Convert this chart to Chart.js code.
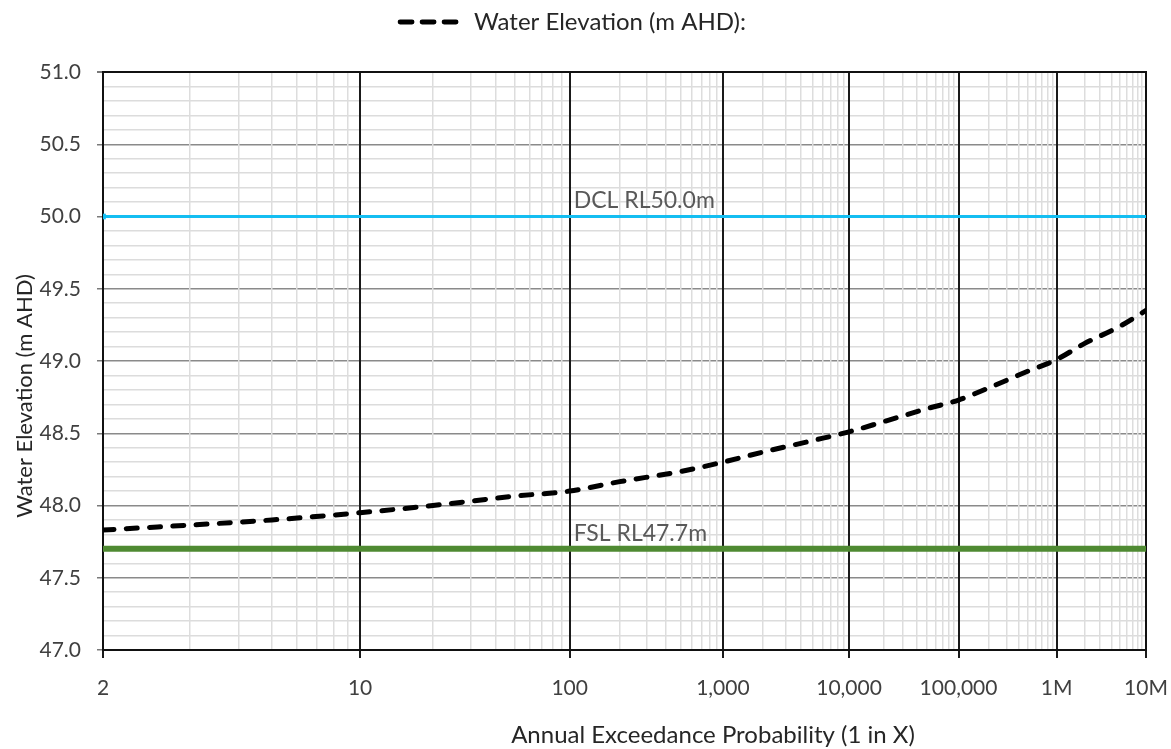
<!DOCTYPE html>
<html>
<head>
<meta charset="utf-8">
<title>Water Elevation vs AEP</title>
<script src="https://cdn.jsdelivr.net/npm/chart.js@4.4.1/dist/chart.umd.min.js"></script>
<style>
  html, body { margin: 0; padding: 0; background: #fff; }
  canvas { display: block; }
</style>
</head>
<body>
<canvas id="aepChart" width="1171" height="749"></canvas>
<script>
// Return period (1 in X) and modelled water elevation (m AHD)
const returnPeriods = [2, 5, 10, 20, 50, 100, 200, 500, 1000, 2000, 5000, 10000, 20000, 50000,
  100000, 200000, 500000, 1000000, 2000000, 5000000, 10000000];
const waterLevels = [47.83, 47.90, 47.95, 48.00, 48.065, 48.10, 48.165, 48.235, 48.30, 48.37, 48.45, 48.51, 48.58, 48.67,
  48.73, 48.815, 48.93, 49.01, 49.12, 49.24, 49.35];

// Reference levels, drawn across the full AEP range
const dclLevel = 50.0;
const fslLevel = 47.7;
const refRange = [2, 10000000];
const refLabelAt = 100;

// Axis ticks
const majorPeriods = [2, 10, 100, 1000, 10000, 100000, 1000000, 10000000];
const majorLabels = ["2", "10", "100", "1,000", "10,000", "100,000", "1M", "10M"];
const minorSteps = [2, 3, 4, 5, 6, 7, 8, 9];
const yMin = 47, yMax = 51, yStep = 0.1, yMajorStep = 0.5;

const xTitle = "Annual Exceedance Probability (1 in X)";
const yTitle = "Water Elevation (m AHD)";

Chart.defaults.font.family = "Lato, 'Open Sans', sans-serif";

// Acklam's approximation of the inverse standard normal CDF
function normInv(p) {
  const a = [-3.969683028665376e+01, 2.209460984245205e+02, -2.759285104469687e+02, 1.383577518672690e+02, -3.066479806614716e+01, 2.506628277459239e+00];
  const b = [-5.447609879822406e+01, 1.615858368580409e+02, -1.556989798598866e+02, 6.680131188771972e+01, -1.328068155288572e+01];
  const c = [-7.784894002430293e-03, -3.223964580411365e-01, -2.400758277161838e+00, -2.549671680376970e+00, 4.374664141464968e+00, 2.938163982698783e+00];
  const d = [7.784695709041462e-03, 3.224671290700398e-01, 2.445134137142996e+00, 3.754408661907416e+00];
  const pLow = 0.02425;
  let q, r;
  if (p < pLow) {
    q = Math.sqrt(-2 * Math.log(p));
    return (((((c[0] * q + c[1]) * q + c[2]) * q + c[3]) * q + c[4]) * q + c[5]) /
      ((((d[0] * q + d[1]) * q + d[2]) * q + d[3]) * q + 1);
  }
  if (p <= 1 - pLow) {
    q = p - 0.5;
    r = q * q;
    return (((((a[0] * r + a[1]) * r + a[2]) * r + a[3]) * r + a[4]) * r + a[5]) * q /
      (((((b[0] * r + b[1]) * r + b[2]) * r + b[3]) * r + b[4]) * r + 1);
  }
  q = Math.sqrt(-2 * Math.log(1 - p));
  return -(((((c[0] * q + c[1]) * q + c[2]) * q + c[3]) * q + c[4]) * q + c[5]) /
    ((((d[0] * q + d[1]) * q + d[2]) * q + d[3]) * q + 1);
}

// Normal probability axis: "1 in X" values are placed at their standard normal deviate
class AepScale extends Chart.LinearScale {
  parse(raw, index) {
    const v = super.parse(raw, index);
    return v === null ? null : -normInv(1 / v);
  }
  init(options) {
    super.init(options);
    this._userMin = this.parse(options.min);
    this._userMax = this.parse(options.max);
  }
}
AepScale.id = "aep";
AepScale.defaults = Chart.LinearScale.defaults;
Chart.register(AepScale);

function buildAepTicks(scale) {
  const ticks = majorPeriods.map((p, i) => ({ value: scale.parse(p), lbl: majorLabels[i], isMajor: true }));
  for (let decade = 1; decade < 10000000; decade *= 10) {
    minorSteps.forEach(m => {
      const p = m * decade;
      if (p > 2 && !majorPeriods.includes(p)) ticks.push({ value: scale.parse(p), lbl: "", isMajor: false });
    });
  }
  ticks.sort((t1, t2) => t1.value - t2.value);
  scale.ticks = ticks;
}

const isHalf = v => Math.abs(v / yMajorStep - Math.round(v / yMajorStep)) < 1e-6;
const toPoints = (xs, ys) => xs.map((x, i) => ({ x, y: ys[i] }));

// zero-size axes that only draw a frame line on the top and right of the plot
const frameAxis = position => ({
  type: "linear",
  position,
  min: 0,
  max: 1,
  afterFit(scale) {
    if (position === "top") scale.height = 0; else scale.width = 0;
    scale.paddingLeft = scale.paddingRight = scale.paddingTop = scale.paddingBottom = 0;
  },
  border: { color: "#111", width: 2 },
  grid: { display: false, drawTicks: false },
  ticks: { display: false }
});

const chartDecor = {
  id: "chartDecor",
  beforeInit(chart) {
    // reserve a fixed band above the plot for the legend
    const fit = chart.legend.fit;
    chart.legend.fit = function () {
      fit.call(this);
      this.height = 72;
    };
  },
  afterDraw(chart) {
    const { ctx, scales: { x, y } } = chart;
    ctx.save();
    ctx.textBaseline = "alphabetic";
    ctx.textAlign = "left";
    ctx.font = "23px Lato";
    ctx.fillStyle = "#595959";
    const lx = x.getPixelForValue(x.parse(refLabelAt)) + 4;
    ctx.fillText("DCL RL" + dclLevel.toFixed(1) + "m", lx, y.getPixelForValue(dclLevel) - 9);
    ctx.fillText("FSL RL" + fslLevel.toFixed(1) + "m", lx, y.getPixelForValue(fslLevel) - 8);

    ctx.fillStyle = "#262626";
    ctx.textAlign = "center";
    ctx.font = "24px Lato";
    ctx.fillText(xTitle, 713, 743);
    ctx.font = "22px Lato";
    ctx.translate(32, 396);
    ctx.rotate(-Math.PI / 2);
    ctx.fillText(yTitle, 0, 0);
    ctx.restore();
  }
};

new Chart(document.getElementById("aepChart"), {
  type: "line",
  data: {
    datasets: [
      {
        label: "Water Elevation (m AHD):",
        data: toPoints(returnPeriods, waterLevels),
        borderColor: "#000",
        borderWidth: 5,
        borderDash: [11, 12.3],
        borderCapStyle: "round",
        pointRadius: 0,
        cubicInterpolationMode: "monotone",
        fill: false
      },
      {
        label: "DCL",
        data: refRange.map(x => ({ x, y: dclLevel })),
        borderColor: "#14BEF2",
        borderWidth: 3,
        pointStyle: "rect",
        pointRadius: [4, 0],
        pointBackgroundColor: "#14BEF2",
        pointBorderWidth: 0,
        fill: false
      },
      {
        label: "FSL",
        data: refRange.map(x => ({ x, y: fslLevel })),
        borderColor: "#4F8A32",
        borderWidth: 6,
        pointRadius: 0,
        fill: false
      }
    ]
  },
  options: {
    responsive: false,
    animation: false,
    datasets: { line: { xAxisID: "x", yAxisID: "y" } },
    layout: { padding: { left: 0, right: 25, top: 0, bottom: 0 } },
    plugins: {
      tooltip: { enabled: false },
      legend: {
        position: "top",
        labels: {
          usePointStyle: true,
          pointStyleWidth: 62,
          padding: 10,
          color: "#262626",
          font: { size: 24 },
          generateLabels(chart) {
            const ds = chart.data.datasets[0];
            return [{
              text: ds.label,
              datasetIndex: 0,
              pointStyle: "line",
              strokeStyle: ds.borderColor,
              fillStyle: ds.borderColor,
              lineWidth: 4.8,
              lineDash: [12, 10],
              lineCap: ds.borderCapStyle,
              fontColor: "#262626"
            }];
          }
        }
      }
    },
    scales: {
      x: {
        type: "aep",
        bounds: "data",
        min: majorPeriods[0],
        max: majorPeriods[majorPeriods.length - 1],
        afterBuildTicks: buildAepTicks,
        afterFit(scale) {
          scale.height = 99;
          scale.paddingLeft = 0;
          scale.paddingRight = 0;
        },
        border: { color: "#111", width: 2 },
        grid: {
          z: -1,
          color: c => (c.tick && c.tick.isMajor ? "#1a1a1a" : "#dddddd"),
          lineWidth: c => (c.tick && c.tick.isMajor ? 2 : 1.5),
          tickColor: c => (c.tick && c.tick.isMajor ? "#1a1a1a" : "rgba(0,0,0,0)"),
          tickWidth: 2,
          tickLength: 8
        },
        ticks: {
          autoSkip: false,
          maxRotation: 0,
          padding: 18,
          color: "#404040",
          font: { size: 21 },
          callback: (value, i, ticks) => ticks[i].lbl
        }
      },
      y: {
        type: "linear",
        min: yMin,
        max: yMax,
        afterFit(scale) { scale.width = 103; },
        border: { color: "#111", width: 2 },
        grid: {
          z: -2,
          color: c => (c.tick && c.tick.value >= yMax - 1e-6 ? "#1a1a1a" : isHalf(c.tick ? c.tick.value : 0) ? "#8a8a8a" : "#dcdcdc"),
          lineWidth: c => (c.tick && c.tick.value >= yMax - 1e-6 ? 2 : 1.5),
          tickColor: c => (c.tick && isHalf(c.tick.value) ? "#7a7a7a" : "rgba(0,0,0,0)"),
          tickLength: 6
        },
        ticks: {
          stepSize: yStep,
          autoSkip: false,
          padding: 16,
          color: "#404040",
          font: { size: 21 },
          callback: v => (isHalf(v) ? v.toFixed(1) : "")
        }
      },
      xTop: frameAxis("top"),
      yRight: frameAxis("right")
    }
  },
  plugins: [chartDecor]
});
</script>
</body>
</html>
